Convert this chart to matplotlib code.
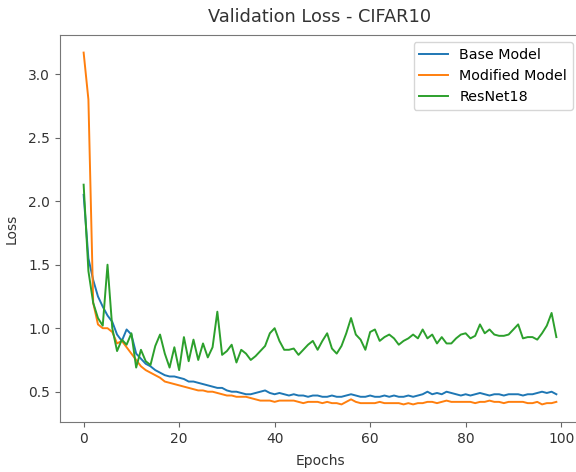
import matplotlib
matplotlib.use("Agg")
import matplotlib.pyplot as plt
import numpy as np

epochs = list(range(100))

base_model = [2.05, 1.55, 1.38, 1.25, 1.17, 1.10, 1.05, 0.95, 0.90, 0.99,
              0.95, 0.80, 0.76, 0.72, 0.70, 0.67, 0.65, 0.63, 0.62, 0.62,
              0.61, 0.60, 0.58, 0.58, 0.57, 0.56, 0.55, 0.54, 0.53, 0.53,
              0.51, 0.50, 0.50, 0.49, 0.48, 0.48, 0.49, 0.50, 0.51, 0.49,
              0.48, 0.49, 0.48, 0.47, 0.48, 0.47, 0.47, 0.46, 0.47, 0.47,
              0.46, 0.46, 0.47, 0.46, 0.46, 0.47, 0.48, 0.47, 0.46, 0.46,
              0.47, 0.46, 0.46, 0.47, 0.46, 0.47, 0.46, 0.46, 0.47, 0.46,
              0.47, 0.48, 0.50, 0.48, 0.49, 0.48, 0.50, 0.49, 0.48, 0.47,
              0.48, 0.47, 0.48, 0.49, 0.48, 0.47, 0.48, 0.48, 0.47, 0.48,
              0.48, 0.48, 0.47, 0.48, 0.48, 0.49, 0.50, 0.49, 0.50, 0.48]

modified_model = [3.17, 2.80, 1.20, 1.03, 1.00, 1.00, 0.97, 0.88, 0.90, 0.85,
                  0.80, 0.75, 0.70, 0.67, 0.65, 0.63, 0.61, 0.58, 0.57, 0.56,
                  0.55, 0.54, 0.53, 0.52, 0.51, 0.51, 0.50, 0.50, 0.49, 0.48,
                  0.47, 0.47, 0.46, 0.46, 0.46, 0.45, 0.44, 0.43, 0.43, 0.43,
                  0.42, 0.43, 0.43, 0.43, 0.43, 0.42, 0.41, 0.42, 0.42, 0.42,
                  0.41, 0.42, 0.41, 0.41, 0.40, 0.42, 0.44, 0.42, 0.41, 0.41,
                  0.41, 0.41, 0.42, 0.41, 0.41, 0.41, 0.41, 0.40, 0.41, 0.40,
                  0.41, 0.41, 0.42, 0.42, 0.41, 0.42, 0.43, 0.42, 0.42, 0.42,
                  0.42, 0.42, 0.41, 0.42, 0.42, 0.43, 0.42, 0.42, 0.41, 0.42,
                  0.42, 0.42, 0.42, 0.41, 0.41, 0.42, 0.40, 0.41, 0.41, 0.42]

resnet18 = [2.13, 1.45, 1.20, 1.08, 1.02, 1.50, 1.00, 0.82, 0.91, 0.87,
            0.96, 0.69, 0.83, 0.74, 0.71, 0.86, 0.95, 0.80, 0.69, 0.85,
            0.67, 0.93, 0.74, 0.91, 0.75, 0.88, 0.77, 0.85, 1.13, 0.79,
            0.82, 0.87, 0.73, 0.83, 0.80, 0.75, 0.78, 0.82, 0.86, 0.96,
            1.00, 0.90, 0.83, 0.83, 0.84, 0.79, 0.83, 0.87, 0.90, 0.83,
            0.90, 0.96, 0.84, 0.80, 0.86, 0.96, 1.08, 0.95, 0.91, 0.83,
            0.97, 0.99, 0.90, 0.93, 0.95, 0.92, 0.87, 0.90, 0.92, 0.95,
            0.92, 0.99, 0.92, 0.95, 0.88, 0.93, 0.88, 0.88, 0.92, 0.95,
            0.96, 0.92, 0.94, 1.03, 0.96, 0.99, 0.95, 0.94, 0.94, 0.95,
            0.99, 1.03, 0.92, 0.93, 0.93, 0.91, 0.96, 1.02, 1.12, 0.93]

fig = plt.figure(figsize=(5.76, 4.72), dpi=100)
ax = fig.add_axes([60/576, 1 - 422/472, 520/576, 387/472])
ax.plot(epochs, base_model, label="Base Model", color="#1f77b4", lw=1.4)
ax.plot(epochs, modified_model, label="Modified Model", color="#ff7f0e", lw=1.4)
ax.plot(epochs, resnet18, label="ResNet18", color="#2ca02c", lw=1.4)
ax.set_title("Validation Loss - CIFAR10", fontsize=12.8, pad=9, color="#333333")
ax.set_xlabel("Epochs", fontsize=10, labelpad=6, color="#333333")
ax.set_ylabel("Loss", fontsize=10, labelpad=7, color="#333333")
ax.set_xticks([0, 20, 40, 60, 80, 100])
ax.set_yticks([0.5, 1.0, 1.5, 2.0, 2.5, 3.0])
ax.tick_params(labelsize=10, labelcolor="#333333", color="#666666")
for s in ax.spines.values():
    s.set_color("#777777")
ax.legend(loc="upper right", fontsize=10.3)
fig.savefig("out.png", dpi=100)
